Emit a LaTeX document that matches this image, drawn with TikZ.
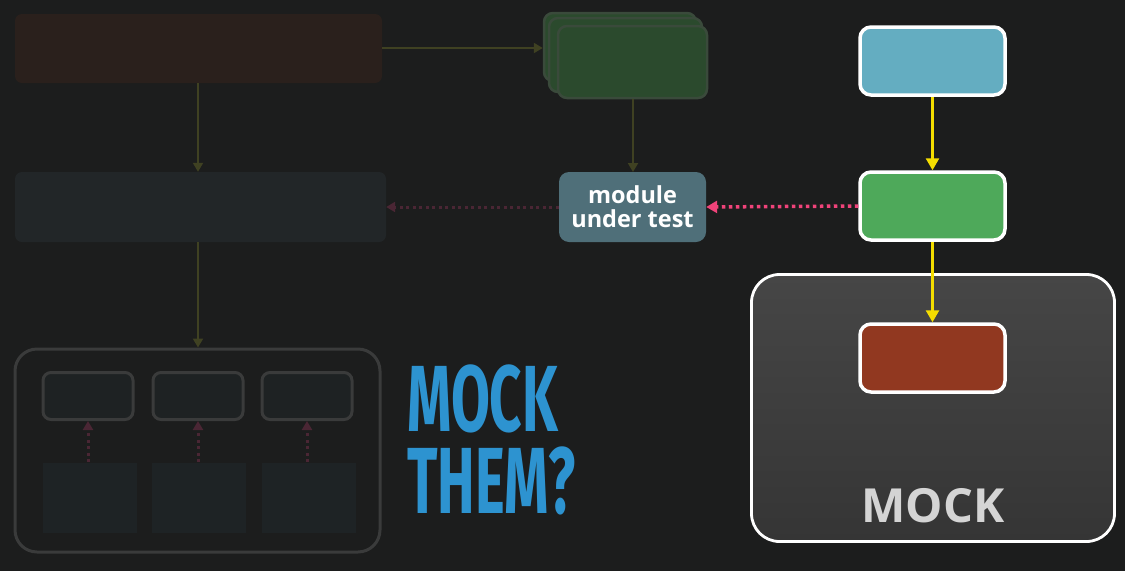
\documentclass[tikz,border=0pt]{standalone}
\usepackage{fontspec}
\usepackage{graphicx}
\setmainfont{Open Sans}
\newfontfamily\condfont{Fira Sans}
\usetikzlibrary{arrows.meta}
\definecolor{bg}{HTML}{1C1D1D}
\definecolor{fadeolive}{HTML}{3F4122}
\definecolor{fadepink}{HTML}{4A2634}
\definecolor{hotpink}{HTML}{F0437A}
\definecolor{ylw}{HTML}{F4DD00}
\definecolor{bluebox}{HTML}{64ADC1}
\definecolor{greenbox}{HTML}{4EA95A}
\definecolor{redbox}{HTML}{913820}
\definecolor{modfill}{HTML}{4F6F79}
\definecolor{mockblue}{HTML}{2D93D0}
\definecolor{topfill}{HTML}{2A201C}
\definecolor{midfill}{HTML}{222628}
\definecolor{contline}{HTML}{3A3B3B}
\definecolor{smallfill}{HTML}{1E2223}
\definecolor{lowfill}{HTML}{1E2325}
\definecolor{gfill}{HTML}{2B4A2D}
\definecolor{gline}{HTML}{3A4A3B}
\definecolor{mocktop}{HTML}{464646}
\definecolor{mockbot}{HTML}{353535}
\tikzset{
  brightbox/.style={draw=white, line width=3.5pt, rounded corners=11pt, minimum width=145pt, minimum height=68pt, inner sep=0pt},
  yarrow/.style={draw=ylw, line width=2.6pt, -{Triangle[length=12pt,width=13pt]}},
  parrow/.style={draw=hotpink, line width=3.5pt, dash pattern=on 3.5pt off 3.5pt, -{Triangle[length=11pt,width=12pt]}},
  farrow/.style={draw=fadeolive, line width=2pt, -{Triangle[length=9pt,width=10pt]}},
  fparrow/.style={draw=fadepink, line width=3pt, dash pattern=on 3pt off 3.5pt, -{Triangle[length=9pt,width=10pt]}},
  smallbox/.style={draw=contline, line width=3pt, fill=smallfill, rounded corners=8pt, minimum width=90pt, minimum height=47pt, inner sep=0pt},
  lowbox/.style={fill=lowfill, minimum width=94pt, minimum height=70pt, inner sep=0pt},
  gstack/.style={draw=gline, line width=2.5pt, fill=gfill, rounded corners=9pt, inner sep=0pt},
  bigtext/.style={anchor=north west, inner sep=0pt, text=mockblue, align=left, font=\condfont\bfseries\fontsize{94}{82}\selectfont}
}
\begin{document}
\begin{tikzpicture}[x=1pt,y=-1pt]
\fill[bg] (0,0) rectangle (1125,571);
\useasboundingbox (0,0) rectangle (1125,571);
% faded left part
\node[fill=topfill, rounded corners=7pt, minimum width=367pt, minimum height=69pt, inner sep=0pt] (top) at (198.5,48.5) {};
\node[fill=midfill, rounded corners=7pt, minimum width=371pt, minimum height=70pt, inner sep=0pt] (mid) at (200.5,207) {};
\node[draw=contline, line width=3pt, rounded corners=22pt, minimum width=365pt, minimum height=203pt, inner sep=0pt] (cont) at (197.5,450.5) {};
\foreach \i/\x/\lx in {1/88/90,2/198/199,3/307/309}{
  \node[smallbox] (s\i) at (\x,396) {};
  \node[lowbox] (l\i) at (\lx,498) {};
  \coordinate (c\i) at (\x,462);
  \draw[fparrow] (c\i) -- (s\i.south);
}
% green stack
\node[gstack, minimum width=152pt, minimum height=68pt] (g1) at (620,47) {};
\node[gstack, minimum width=153pt, minimum height=74pt] (g2) at (625.5,55) {};
\node[gstack, minimum width=149pt, minimum height=72pt] (g3) at (632.5,62) {};
\draw[farrow] (top.east |- 0,48) -- (g1.west |- 0,48);
\draw[farrow] (top.south -| 198,0) -- (mid.north -| 198,0);
\draw[farrow] (mid.south -| 198,0) -- (cont.north -| 198,0);
\draw[farrow] (g3.south -| 633,0) -- (633,172);
% module under test
\node[fill=modfill, rounded corners=10pt, minimum width=147pt, minimum height=70pt, inner sep=0pt, text=white, font=\bfseries\fontsize{23.5}{24}\selectfont, align=center] (mut) at (632.5,207) {module\\under test};
\draw[fparrow] (mut.west) -- (mid.east);
% right part
\node[draw=white, line width=2.8pt, rounded corners=28pt, top color=mocktop, bottom color=mockbot, minimum width=363pt, minimum height=267pt, inner sep=0pt] (mock) at (933,408) {};
\node[font=\bfseries\fontsize{47}{47}\selectfont, text=black!17!white, anchor=base] (mocklbl) at (933,522) {MOCK};
\node[brightbox, fill=bluebox] (b1) at (932.5,61) {};
\node[brightbox, fill=greenbox] (b2) at (932.5,206) {};
\node[brightbox, fill=redbox] (b3) at (932.5,358) {};
\draw[yarrow] (b1.south) -- (b2.north);
\draw[yarrow] (b2.south) -- (b3.north);
\draw[parrow] (b2.west) -- (mut.east);
% MOCK THEM?
\node[bigtext] (q) at (407,365) {\scalebox{0.6}[1]{MOCK}\\\scalebox{0.6}[1]{THEM?}};
\end{tikzpicture}
\end{document}
